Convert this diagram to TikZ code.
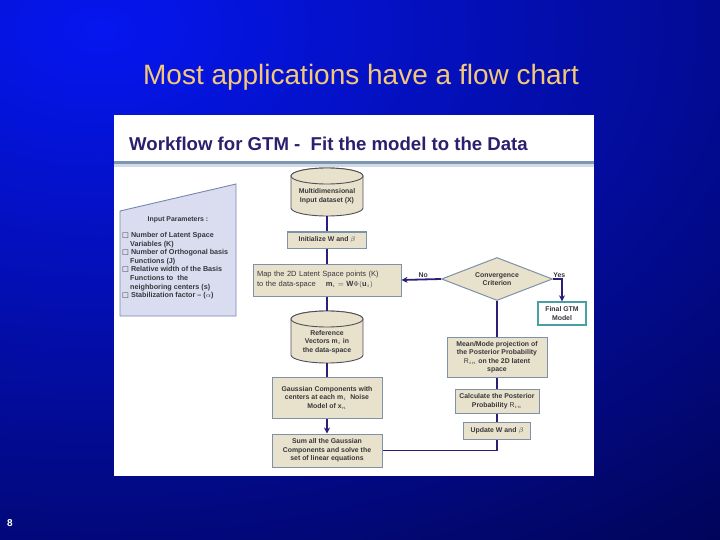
\documentclass[tikz,border=0pt]{standalone}
\usepackage{fontspec}
\setmainfont{Liberation Sans}
\newfontfamily\dejavu{DejaVu Sans}
\usetikzlibrary{shapes.geometric,arrows.meta}
\definecolor{bgbright}{RGB}{5,22,240}
\definecolor{bgdark}{RGB}{0,0,50}
\definecolor{titlecol}{RGB}{245,200,120}
\definecolor{hdrcol}{RGB}{45,30,110}
\definecolor{boxfill}{RGB}{232,226,204}
\definecolor{boxline}{RGB}{125,145,168}
\definecolor{cylline}{RGB}{80,80,90}
\definecolor{conncol}{RGB}{45,30,120}
\definecolor{txt}{RGB}{55,55,60}
\definecolor{parfill}{RGB}{218,221,240}
\definecolor{parline}{RGB}{120,135,175}
\definecolor{finline}{RGB}{70,160,165}
\definecolor{rulecol}{RGB}{125,150,180}
\tikzset{
  boxfont/.style={font=\fontsize{6.9}{8.5}\selectfont\bfseries, text=txt},
  flowbox/.style={draw=boxline, fill=boxfill, line width=1pt, boxfont, align=center, inner sep=1pt},
  cylshape/.style={draw=cylline, fill=boxfill, line width=0.9pt},
  conn/.style={draw=conncol, line width=1.8pt},
  arr/.style={conn, -{Stealth[length=6pt,width=6pt]}},
  lbl/.style={boxfont, inner sep=1pt},
}
\begin{document}
\begin{tikzpicture}[x=1pt,y=-1pt]
\useasboundingbox (0,0) rectangle (720,540);
% background
\begin{scope}
\clip (0,0) rectangle (720,540);
\shade[inner color=bgbright, outer color=bgdark] (100,30) ellipse[x radius=1250, y radius=820];
\end{scope}
% title
\node[text=titlecol, font=\fontsize{28}{32}\selectfont] (title) at (361,77) {Most applications have a flow chart};
\node[text=white, font=\bfseries\fontsize{10}{12}\selectfont] (pnum) at (10,523) {8};
% panel
\fill[white] (114,115) rectangle (594,476);
\node[anchor=west, text=hdrcol, font=\bfseries\fontsize{18.6}{22}\selectfont, inner sep=0pt] (hdr) at (129,144) {Workflow for GTM -\ \ Fit the model to the Data};
\fill[rulecol] (114,161) rectangle (594,164.5);
\fill[rulecol!35] (114,164.5) rectangle (594,167);
% input parameters
\filldraw[fill=parfill, draw=parline, line width=0.9pt] (120,211) -- (236,184) -- (236,316) -- (120,316) -- cycle;
\node[boxfont] (parhead) at (178,220) {Input Parameters :};
\node[boxfont, anchor=north west, align=left, inner sep=0pt, font=\fontsize{7.2}{8.6}\selectfont\bfseries] (params) at (122,232) {%
{\dejavu\mdseries □} Number of Latent Space\\
\hspace*{8pt}Variables (K)\\
{\dejavu\mdseries □} Number of Orthogonal basis\\
\hspace*{8pt}Functions (J)\\
{\dejavu\mdseries □} Relative width of the Basis\\
\hspace*{8pt}Functions to\ \ the\\
\hspace*{8pt}neighboring centers (s)\\
{\dejavu\mdseries □} Stabilization factor -- ($\alpha$)};
% cylinder 1
\filldraw[cylshape] (291,176) -- (291,208) arc[start angle=180, end angle=0, x radius=36, y radius=8] -- (363,176) arc[start angle=0, end angle=-180, x radius=36, y radius=8] -- cycle;
\draw[cylshape] (327,176) ellipse[x radius=36, y radius=8];
\node[minimum width=72pt, minimum height=48pt, inner sep=0pt] (cyl1) at (327,192) {};
\node[boxfont, align=center] (cyl1t) at (327,196) {Multidimensional\\Input dataset ($\mathbf{X}$)};
% cylinder 2
\filldraw[cylshape] (291,319) -- (291,355) arc[start angle=180, end angle=0, x radius=36, y radius=8] -- (363,319) arc[start angle=0, end angle=-180, x radius=36, y radius=8] -- cycle;
\draw[cylshape] (327,319) ellipse[x radius=36, y radius=8];
\node[minimum width=72pt, minimum height=52pt, inner sep=0pt] (cyl2) at (327,337) {};
\node[boxfont, align=center] (cyl2t) at (327,342) {Reference\\Vectors $\mathbf{m}_i$ in\\the data-space};
% central boxes
\node[flowbox, minimum width=79pt, minimum height=16pt] (init) at (327,240) {Initialize $\mathbf{W}$ and $\beta$};
\node[flowbox, minimum width=148pt, minimum height=32pt, text width=140pt, align=left, font=\fontsize{7.5}{10}\selectfont\mdseries] (map) at (327,280) {Map the 2D Latent Space points (K)\\to the data-space \quad $\mathbf{m}_i = \mathbf{W}\Phi(\mathbf{u}_i)$};
\node[flowbox, minimum width=110pt, minimum height=41pt] (gauss) at (327,397.5) {Gaussian Components with\\centers at each $\mathbf{m}_i$\ \ Noise\\Model of $\mathbf{x}_n$};
\node[flowbox, minimum width=110pt, minimum height=33pt] (sum) at (327,450.5) {Sum all the Gaussian\\Components and solve the\\set of linear equations};
% right column
\node[draw=boxline, fill=boxfill, line width=1pt, shape=diamond, aspect=2.6, minimum width=111pt, minimum height=43pt, inner sep=0pt, boxfont, align=center] (conv) at (497,279) {Convergence\\Criterion};
\node[draw=finline, fill=white, line width=1.3pt, minimum width=48pt, minimum height=23pt, inner sep=1pt, boxfont, align=center] (final) at (562,313.5) {Final GTM\\Model};
\node[flowbox, minimum width=100pt, minimum height=40pt] (mean) at (497,357) {Mean/Mode projection of\\the Posterior Probability\\$\mathrm{R}_{in}$\ on the 2D latent\\space};
\node[flowbox, minimum width=84pt, minimum height=24pt] (calc) at (497,401) {Calculate the Posterior\\Probability $\mathrm{R}_{in}$};
\node[flowbox, minimum width=67pt, minimum height=17pt] (update) at (497,431) {Update W and $\beta$};
% connectors
\draw[conn] (cyl1.south) -- (init.north);
\draw[conn] (init.south) -- (map.north);
\draw[conn] (map.south) -- (cyl2.north);
\draw[conn] (cyl2.south) -- (gauss.north);
\draw[arr] (gauss.south) -- (sum.north);
\draw[conn] (update.south) |- (sum.east);
\draw[conn] (update.north) -- (calc.south);
\draw[conn] (calc.north) -- (mean.south);
\draw[conn] (mean.north) -- (conv.south);
\draw[arr] (conv.west) -- node[lbl, above, pos=0.45] {No} (map.east);
\draw[arr] (conv.east) -| node[lbl, above, pos=0.35] {Yes} (final.north);
\end{tikzpicture}
\end{document}
